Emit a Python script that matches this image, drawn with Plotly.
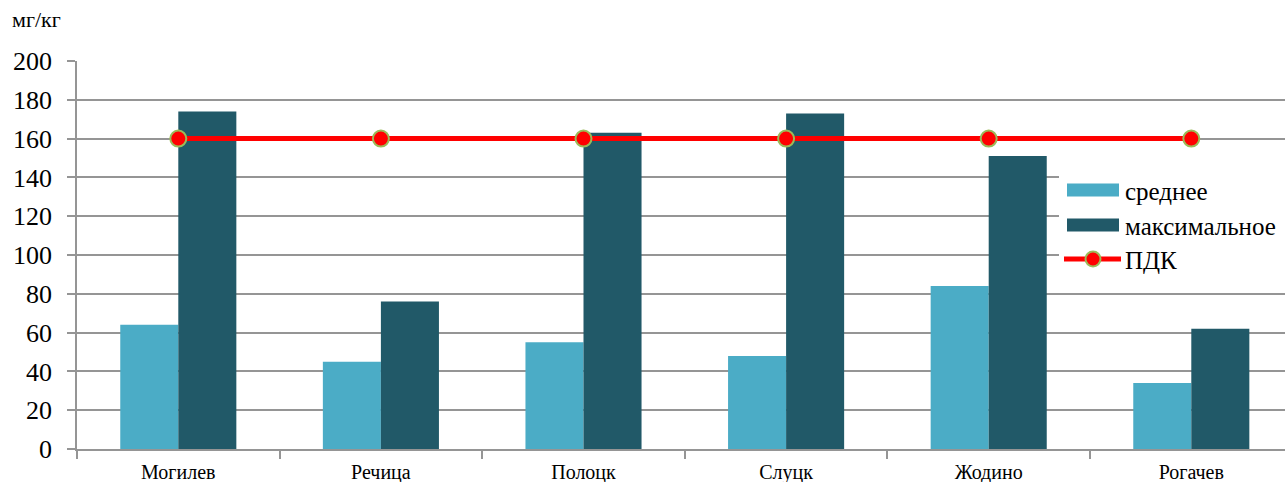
import plotly.graph_objects as go

categories = ["Могилев", "Речица", "Полоцк", "Слуцк", "Жодино", "Рогачев"]
avg_vals = [64, 45, 55, 48, 84, 34]
max_vals = [174, 76, 163, 173, 151, 62]
pdk_vals = [160, 160, 160, 160, 160, 160]
series_names = ["среднее", "максимальное", "ПДК"]

C_AVG = "#4BACC6"
C_MAX = "#215968"
C_PDK = "#FF0000"
C_EDGE = "#9BBB59"
GRID = "#959595"
FONT = "Liberation Serif"

W, H = 1285, 482
ML, MR, MT, MB = 77, 0, 61, 33
PW, PH = W - ML - MR, H - MT - MB

fig = go.Figure()
fig.add_trace(go.Bar(x=categories, y=avg_vals, name=series_names[0], marker=dict(color=C_AVG, line=dict(width=0))))
fig.add_trace(go.Bar(x=categories, y=max_vals, name=series_names[1], marker=dict(color=C_MAX, line=dict(width=0))))
fig.add_trace(go.Scatter(x=categories, y=pdk_vals, name=series_names[2], mode="lines+markers",
                         line=dict(color=C_PDK, width=5),
                         marker=dict(color=C_PDK, size=16, line=dict(color=C_EDGE, width=2))))

def px(xp):
    return (xp - ML) / PW

def py(yp):
    return (H - MB - yp) / PH

shapes = []
annotations = []
shapes.append(dict(type="rect", xref="paper", yref="paper", x0=px(1059), x1=1.0, y0=py(282), y1=py(165),
                   fillcolor="white", line=dict(width=0), layer="above"))
rows = [190, 225, 259]
shapes.append(dict(type="rect", xref="paper", yref="paper", x0=px(1067), x1=px(1119), y0=py(rows[0] + 6.5), y1=py(rows[0] - 6.5),
                   fillcolor=C_AVG, line=dict(width=0), layer="above"))
shapes.append(dict(type="rect", xref="paper", yref="paper", x0=px(1067), x1=px(1119), y0=py(rows[1] + 6.5), y1=py(rows[1] - 6.5),
                   fillcolor=C_MAX, line=dict(width=0), layer="above"))
shapes.append(dict(type="line", xref="paper", yref="paper", x0=px(1064), x1=px(1121), y0=py(rows[2]), y1=py(rows[2]),
                   line=dict(color=C_PDK, width=5), layer="above"))
shapes.append(dict(type="circle", xref="paper", yref="paper", x0=px(1085.5), x1=px(1100.5), y0=py(rows[2] + 7.5), y1=py(rows[2] - 7.5),
                   fillcolor=C_PDK, line=dict(color=C_EDGE, width=2), layer="above"))
for name, r in zip(series_names, rows):
    annotations.append(dict(text=name, xref="paper", yref="paper", x=px(1123), y=py(r + 1), xanchor="left", yanchor="middle",
                            showarrow=False, font=dict(family=FONT, size=25, color="#000000")))

annotations.append(dict(text="мг/кг", xref="paper", yref="paper", x=px(10), y=py(20), xanchor="left", yanchor="middle",
                        showarrow=False, font=dict(family=FONT, size=22, color="#000000")))

span = PW / 202.6
fig.update_layout(
    width=W, height=H,
    margin=dict(l=ML, r=MR, t=MT, b=MB, pad=0, autoexpand=False),
    paper_bgcolor="white", plot_bgcolor="white",
    barmode="group", bargap=0.427, bargroupgap=0,
    showlegend=False,
    shapes=shapes, annotations=annotations,
    font=dict(family=FONT, color="#000000"),
    xaxis=dict(range=[-0.5, -0.5 + span], tickson="boundaries", ticks="outside", ticklen=8, tickcolor=GRID, tickwidth=1.5,
               showline=True, linecolor=GRID, linewidth=1.5, showgrid=False, zeroline=False, automargin=False,
               ticklabelstandoff=4,
               tickfont=dict(family=FONT, size=20, color="#000000")),
    yaxis=dict(range=[0, 200], dtick=20, ticks="outside", ticklen=8, tickcolor=GRID, tickwidth=1.5,
               showline=True, linecolor=GRID, linewidth=1.5, showgrid=True, gridcolor=GRID, gridwidth=1.5, automargin=False,
               ticklabelstandoff=10,
               zeroline=False, tickfont=dict(family=FONT, size=26, color="#000000")),
)

fig.write_html("out.html")
